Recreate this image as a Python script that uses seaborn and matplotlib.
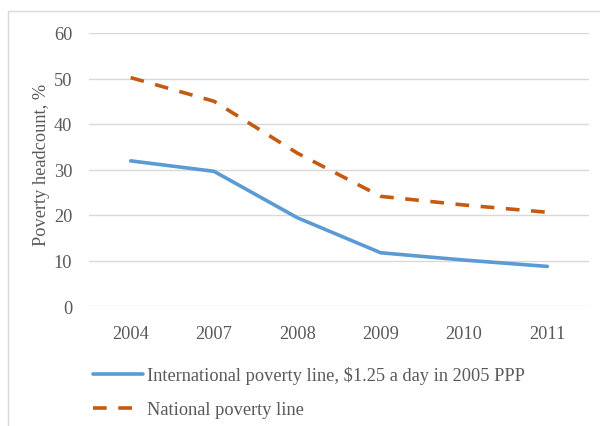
import matplotlib
matplotlib.use("Agg")
import matplotlib.pyplot as plt
import seaborn as sns
import pandas as pd
from matplotlib.patches import Rectangle

years = ["2004", "2007", "2008", "2009", "2010", "2011"]
international = [31.9, 29.6, 19.4, 11.7, 10.1, 8.7]
national = [50.2, 45.0, 33.6, 24.1, 22.2, 20.6]
series_names = ["International poverty line, $1.25 a day in 2005 PPP",
                "National poverty line"]
y_ticks = [0, 10, 20, 30, 40, 50, 60]

df = pd.DataFrame({
    "year": years * 2,
    "value": international + national,
    "series": [series_names[0]] * len(years) + [series_names[1]] * len(years),
})

sns.set_theme(style="white")
plt.rcParams["font.family"] = ["Liberation Serif", "DejaVu Serif"]
text_color = "#595959"
fs = 13.2

fig = plt.figure(figsize=(6.0, 4.27), dpi=100)
ax = fig.add_axes([89 / 600, 1 - 307 / 427, 500 / 600, 273 / 427])

# light outer frame of the chart area
fig.patches.append(Rectangle((8 / 600, -0.2), 1.2, 1.2 - 12 / 427, transform=fig.transFigure,
                             fill=False, edgecolor="#d9d9d9", linewidth=1.0, zorder=0))

palette = {series_names[0]: "#5b9bd5", series_names[1]: "#c55a11"}
sns.lineplot(data=df, x="year", y="value", hue="series", style="series",
             palette=palette, dashes={series_names[0]: "", series_names[1]: (3.8, 3.2)},
             linewidth=2.6, ax=ax, legend=True, sort=False)

ax.set_xlim(-0.5, len(years) - 0.5)
ax.set_ylim(0, 60)
ax.set_yticks(y_ticks)
ax.grid(axis="y", color="#d9d9d9", linewidth=1.0)
ax.set_axisbelow(True)
for s in ax.spines.values():
    s.set_visible(False)
ax.tick_params(axis="both", length=0, labelsize=fs, labelcolor=text_color)
ax.tick_params(axis="y", pad=12)
ax.tick_params(axis="x", pad=14)
ax.set_xlabel("")
ax.set_ylabel("Poverty headcount, %", fontsize=fs, color=text_color, va="center")
ax.yaxis.set_label_coords((42 - 89) / 500, (307 - 165) / 273)

handles, labels = ax.get_legend_handles_labels()
ax.get_legend().remove()
fig.legend(handles, labels, loc="upper left", bbox_to_anchor=(93 / 600, 1 - 367 / 427),
           frameon=False, fontsize=fs, labelcolor=text_color, handlelength=2.7,
           handletextpad=0.27, labelspacing=0.95, borderaxespad=0, borderpad=0)

fig.savefig("out.png", dpi=100)
